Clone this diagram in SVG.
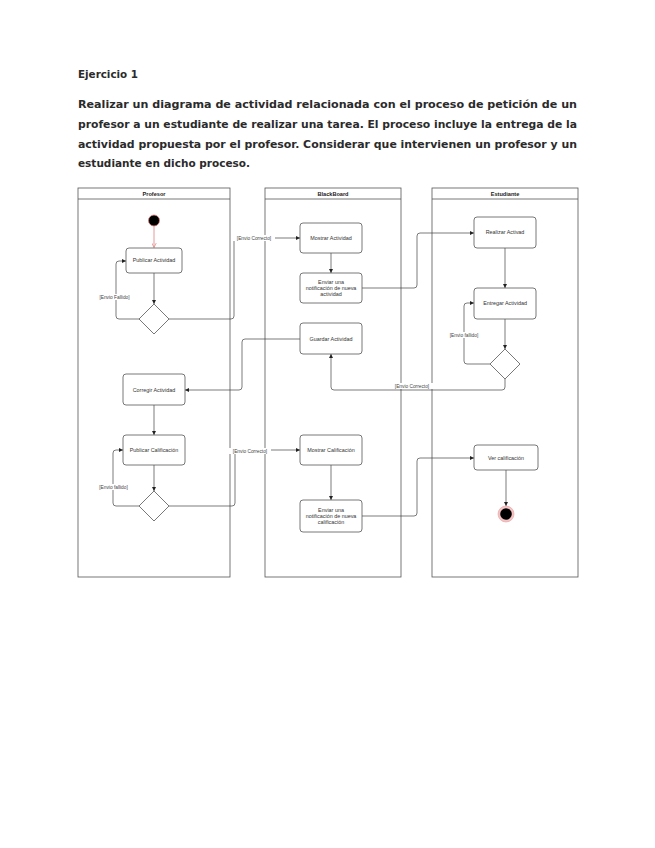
<svg xmlns="http://www.w3.org/2000/svg" width="655" height="848" viewBox="0 0 655 848">
<defs>
<style>
.hdr{font-family:"DejaVu Sans","Verdana",sans-serif;fill:#2b2b2b}
.lane{fill:none;stroke:#555;stroke-width:0.8}
.lt{font-family:"Liberation Sans",Arial,sans-serif;font-size:5.6px;font-weight:bold;fill:#222;text-anchor:middle}
.node{fill:#fff;stroke:#555;stroke-width:0.8}
.nt{font-family:"Liberation Sans",Arial,sans-serif;font-size:5.4px;fill:#333;text-anchor:middle}
.edge{fill:none;stroke:#444;stroke-width:0.7}
.el{font-family:"Liberation Sans",Arial,sans-serif;font-size:4.8px;fill:#444;text-anchor:middle}
.lbg{fill:#fff}
</style>
<marker id="arr" viewBox="0 0 6 6" refX="6" refY="3" markerWidth="4" markerHeight="4" markerUnits="userSpaceOnUse" orient="auto">
<path d="M0,0 L6,3 L0,6 z" fill="#222"/>
</marker>
<marker id="arrRed" viewBox="0 0 6 6" refX="6" refY="3" markerWidth="5" markerHeight="5" markerUnits="userSpaceOnUse" orient="auto">
<path d="M0,0 L6,3 L0,6" fill="none" stroke="#e08080" stroke-width="0.8"/>
</marker>
</defs>
<rect width="655" height="848" fill="#fff"/>
<g id="header">
<text class="hdr" x="78" y="78" font-size="10" font-weight="bold" textLength="60" lengthAdjust="spacingAndGlyphs">Ejercicio 1</text>
<text class="hdr" x="78" y="108" font-size="10.5" font-weight="bold" textLength="499" lengthAdjust="spacingAndGlyphs">Realizar un diagrama de actividad relacionada con el proceso de petición de un</text>
<text class="hdr" x="78" y="128" font-size="10.5" font-weight="bold" textLength="499" lengthAdjust="spacingAndGlyphs">profesor a un estudiante de realizar una tarea. El proceso incluye la entrega de la</text>
<text class="hdr" x="78" y="148" font-size="10.5" font-weight="bold" textLength="499" lengthAdjust="spacingAndGlyphs">actividad propuesta por el profesor. Considerar que intervienen un profesor y un</text>
<text class="hdr" x="78" y="167" font-size="10.5" font-weight="bold" textLength="172" lengthAdjust="spacingAndGlyphs">estudiante en dicho proceso.</text>
</g>
<g id="lane-profesor">
<rect class="lane" x="78" y="188" width="152" height="389"/>
<line class="lane" x1="78" y1="199" x2="230" y2="199"/>
<text class="lt" x="154" y="196">Profesor</text>
</g>
<g id="lane-blackboard">
<rect class="lane" x="265" y="188" width="136" height="389"/>
<line class="lane" x1="265" y1="199" x2="401" y2="199"/>
<text class="lt" x="333" y="196">BlackBoard</text>
</g>
<g id="lane-estudiante">
<rect class="lane" x="432" y="188" width="146" height="389"/>
<line class="lane" x1="432" y1="199" x2="578" y2="199"/>
<text class="lt" x="505" y="196">Estudiante</text>
</g>
<g id="connectors">
<path d="M154 226 L154 247.5" fill="none" stroke="#e08080" stroke-width="0.8" marker-end="url(#arrRed)"/>
<path class="edge" d="M154 273 L154 304" marker-end="url(#arr)"/>
<path class="edge" d="M140 319 L119 319 Q116 319 116 316 L116 264 Q116 261 119 261 L126 261" marker-end="url(#arr)"/>
<path class="edge" d="M169 319 L231 319 Q234 319 234 316 L234 241 Q234 238 237 238 L300 238" marker-end="url(#arr)"/>
<path class="edge" d="M331 253 L331 273" marker-end="url(#arr)"/>
<path class="edge" d="M362 288 L414 288 Q417 288 417 285 L417 236 Q417 233 420 233 L474 233" marker-end="url(#arr)"/>
<path class="edge" d="M505 248 L505 288" marker-end="url(#arr)"/>
<path class="edge" d="M505 319 L505 349" marker-end="url(#arr)"/>
<path class="edge" d="M490 364 L467 364 Q464 364 464 361 L464 306 Q464 303 467 303 L474 303" marker-end="url(#arr)"/>
<path class="edge" d="M505 379 L505 387 Q505 390 502 390 L334 390 Q331 390 331 387 L331 354" marker-end="url(#arr)"/>
<path class="edge" d="M300 339 L245 339 Q242 339 242 342 L242 387 Q242 390 239 390 L185 390" marker-end="url(#arr)"/>
<path class="edge" d="M154 405 L154 435" marker-end="url(#arr)"/>
<path class="edge" d="M154 465 L154 491" marker-end="url(#arr)"/>
<path class="edge" d="M139 506 L116 506 Q113 506 113 503 L113 453 Q113 450 116 450 L123 450" marker-end="url(#arr)"/>
<path class="edge" d="M169 506 L232 506 Q235 506 235 503 L235 453 Q235 450 238 450 L300 450" marker-end="url(#arr)"/>
<path class="edge" d="M331 465 L331 500" marker-end="url(#arr)"/>
<path class="edge" d="M362 516 L414 516 Q417 516 417 513 L417 461 Q417 458 420 458 L474 458" marker-end="url(#arr)"/>
<path class="edge" d="M506 470 L506 506" marker-end="url(#arr)"/>
<rect class="lbg" x="233" y="235" width="42" height="6"/>
<text class="el" x="254" y="239.8">[Envio Correcto]</text>
<rect class="lbg" x="95" y="294" width="39" height="6"/>
<text class="el" x="114.5" y="298.8">[Envio Fallido]</text>
<rect class="lbg" x="446" y="332" width="36" height="6"/>
<text class="el" x="464" y="336.8">[Envio fallido]</text>
<rect class="lbg" x="391" y="383" width="42" height="6"/>
<text class="el" x="412" y="387.8">[Envio Correcto]</text>
<rect class="lbg" x="96" y="484" width="35" height="6"/>
<text class="el" x="113.5" y="488.8">[Envio fallido]</text>
<rect class="lbg" x="229" y="448" width="42" height="6"/>
<text class="el" x="250" y="452.8">[Envio Correcto]</text>
</g>
<g id="start">
<circle cx="154" cy="220.5" r="5.5" fill="#000" stroke="#e08080" stroke-width="0.8"/>
</g>
<g id="publicar-actividad">
<rect class="node" x="126" y="248" width="56" height="25" rx="3"/>
<text class="nt" x="154" y="262.3">Publicar Actividad</text>
</g>
<g id="decision-1">
<polygon class="node" points="154,304 169,319 154,334 139,319"/>
</g>
<g id="mostrar-actividad">
<rect class="node" x="300" y="223" width="62" height="30" rx="3"/>
<text class="nt" x="331" y="239.8">Mostrar Actividad</text>
</g>
<g id="enviar-notificacion-actividad">
<rect class="node" x="300" y="273" width="62" height="30" rx="3"/>
<text class="nt" x="331" y="284">Enviar una</text>
<text class="nt" x="331" y="289.8">notificación de nueva</text>
<text class="nt" x="331" y="295.6">actividad</text>
</g>
<g id="guardar-actividad">
<rect class="node" x="300" y="323" width="62" height="31" rx="3"/>
<text class="nt" x="331" y="340.5">Guardar Actividad</text>
</g>
<g id="realizar-actividad">
<rect class="node" x="474" y="217" width="62" height="31" rx="3"/>
<text class="nt" x="505" y="234.3">Realizar Activad</text>
</g>
<g id="entregar-actividad">
<rect class="node" x="474" y="288" width="62" height="31" rx="3"/>
<text class="nt" x="505" y="305.3">Entregar Actividad</text>
</g>
<g id="decision-est">
<polygon class="node" points="505,349 520,364 505,379 490,364"/>
</g>
<g id="corregir-actividad">
<rect class="node" x="123" y="374" width="62" height="31" rx="3"/>
<text class="nt" x="154" y="391.5">Corregir Actividad</text>
</g>
<g id="publicar-calificacion">
<rect class="node" x="123" y="435" width="62" height="30" rx="3"/>
<text class="nt" x="154" y="451.8">Publicar Calificación</text>
</g>
<g id="decision-2">
<polygon class="node" points="154,491 169,506 154,521 139,506"/>
</g>
<g id="mostrar-calificacion">
<rect class="node" x="300" y="435" width="62" height="30" rx="3"/>
<text class="nt" x="331" y="451.8">Mostrar Calificación</text>
</g>
<g id="enviar-notificacion-calificacion">
<rect class="node" x="300" y="500" width="62" height="32" rx="3"/>
<text class="nt" x="331" y="512">Enviar una</text>
<text class="nt" x="331" y="517.8">notificación de nueva</text>
<text class="nt" x="331" y="523.6">calificación</text>
</g>
<g id="ver-calificacion">
<rect class="node" x="474" y="445" width="64" height="25" rx="3"/>
<text class="nt" x="506" y="459.8">Ver calificación</text>
</g>
<g id="end">
<circle cx="506" cy="514" r="8" fill="#f4c4c4" stroke="#e8a0a0" stroke-width="0.6"/>
<circle cx="506" cy="514" r="5.8" fill="#000"/>
</g>
</svg>
